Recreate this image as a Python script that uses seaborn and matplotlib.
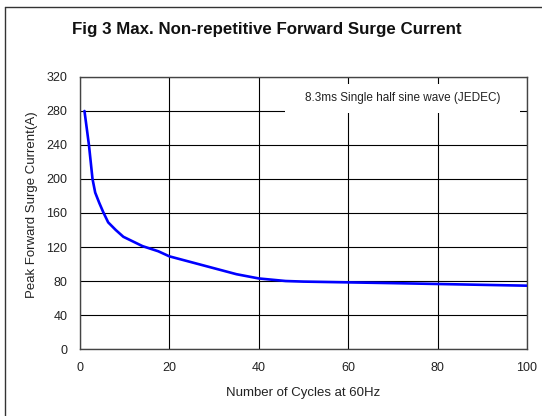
import matplotlib
matplotlib.use("Agg")
import matplotlib.pyplot as plt
import matplotlib.patches as patches
import seaborn as sns
import pandas as pd

# values
cycles = [1, 2, 2.8, 3.4, 4.3, 5.2, 6.3, 8, 9.7, 14, 17.5, 20, 25, 30, 35, 40, 46, 50, 60, 70, 80, 90, 100]
surge_current = [280, 240, 200, 184, 172, 161, 149, 140, 132, 121, 115, 109, 102, 95, 88, 83, 80, 79.3, 78.4, 77.5, 76.5, 75.5, 74.5]
x_ticks = [0, 20, 40, 60, 80, 100]
y_ticks = [0, 40, 80, 120, 160, 200, 240, 280, 320]

df = pd.DataFrame({"cycles": cycles, "current": surge_current})

sns.set_style("white")
plt.rcParams["font.family"] = ["Liberation Sans", "DejaVu Sans"]

fig = plt.figure(figsize=(5.42, 4.16), dpi=100)
ax = fig.add_axes([0.1476, 0.161, 0.8247, 0.654])

sns.lineplot(data=df, x="cycles", y="current", color="#0000ff", linewidth=1.9, ax=ax, zorder=5)

ax.set_xlim(0, 100)
ax.set_ylim(0, 320)
ax.set_xticks(x_ticks)
ax.set_yticks(y_ticks)
ax.grid(True, color="black", linewidth=0.8, zorder=1)
ax.set_axisbelow(True)
ax.tick_params(length=0, pad=9, labelsize=9, labelcolor="#222222")
for s in ax.spines.values():
    s.set_color("#444444")
    s.set_linewidth(1.0)

ax.set_xlabel("Number of Cycles at 60Hz", fontsize=9.5, color="#222222", labelpad=10)
ax.set_ylabel("Peak Forward Surge Current(A)", fontsize=9.5, color="#222222")
ax.yaxis.set_label_coords(-0.094, 0.53)

# white box behind the note, hiding the grid
ax.add_patch(patches.Rectangle((0.4586, 0.8676), 0.5257, 0.1066, transform=ax.transAxes,
                               facecolor="white", edgecolor="none", zorder=3))
ax.text(0.7226, 0.921, "8.3ms Single half sine wave (JEDEC)", transform=ax.transAxes,
        ha="center", va="center", fontsize=8.5, color="#222222", zorder=4)

fig.text(0.493, 0.928, "Fig 3 Max. Non-repetitive Forward Surge Current",
         ha="center", va="center", fontsize=12.2, fontweight="bold", color="#111111")

# frame around the figure (left and top edges visible)
fig.add_artist(plt.Line2D([5 / 542, 5 / 542], [0, 1 - 7 / 416], color="#333333", linewidth=1.0))
fig.add_artist(plt.Line2D([5 / 542, 1], [1 - 7 / 416, 1 - 7 / 416], color="#333333", linewidth=1.0))

fig.savefig("out.png", dpi=100)
